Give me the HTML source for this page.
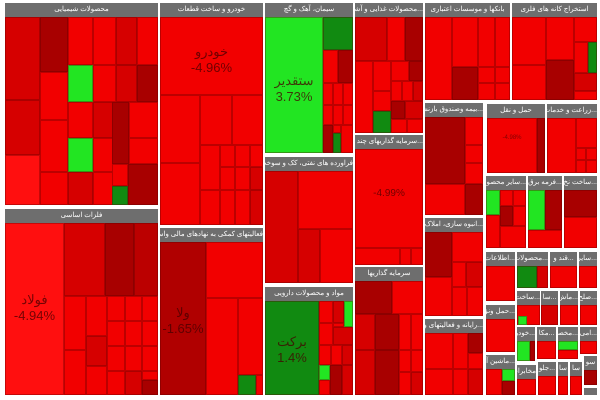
<!DOCTYPE html>
<html><head><meta charset="utf-8">
<style>
body{margin:0;width:600px;height:400px;background:#fff;position:relative;overflow:hidden;font-family:"Liberation Sans","Noto Sans CJK SC",sans-serif}
div{position:absolute;box-sizing:border-box}
.h{background:#6e6e6e;color:#fff;font-size:7px;line-height:14px;height:14px;text-align:center;white-space:nowrap;overflow:hidden;direction:rtl}
.c{border:1px solid rgba(90,0,0,.35);color:rgba(60,0,0,.6);font-size:5px;text-align:center;overflow:hidden}
.r{background:#f20000}.m{background:#d60000}.d{background:#a80000}.g{background:#22e522}.G{background:#118a11}.b{background:#ff0f0f}
.big{font-size:13px;color:rgba(70,0,0,.75)}
</style></head><body>
<!-- chemicals -->
<div class="h" style="left:5px;top:3px;width:153px">محصولات شیمیایی</div>
<div class="c m" style="left:5px;top:17px;width:35px;height:83px"></div>
<div class="c m" style="left:5px;top:100px;width:35px;height:55px"></div>
<div class="c b" style="left:5px;top:155px;width:35px;height:50px"></div>
<div class="c d" style="left:40px;top:17px;width:28px;height:55px"></div>
<div class="c r" style="left:40px;top:72px;width:28px;height:48px"></div>
<div class="c r" style="left:40px;top:120px;width:28px;height:52px"></div>
<div class="c r" style="left:40px;top:172px;width:28px;height:33px"></div>
<div class="c r" style="left:68px;top:17px;width:25px;height:48px"></div>
<div class="c g" style="left:68px;top:65px;width:25px;height:37px"></div>
<div class="c r" style="left:68px;top:102px;width:25px;height:36px"></div>
<div class="c g" style="left:68px;top:138px;width:25px;height:34px"></div>
<div class="c m" style="left:68px;top:172px;width:25px;height:33px"></div>
<div class="c r" style="left:93px;top:17px;width:23px;height:48px"></div>
<div class="c r" style="left:93px;top:65px;width:23px;height:37px"></div>
<div class="c m" style="left:93px;top:102px;width:23px;height:36px"></div>
<div class="c r" style="left:93px;top:138px;width:23px;height:34px"></div>
<div class="c r" style="left:93px;top:172px;width:23px;height:33px"></div>
<div class="c m" style="left:116px;top:17px;width:21px;height:48px"></div>
<div class="c m" style="left:116px;top:65px;width:21px;height:37px"></div>
<div class="c d" style="left:112px;top:102px;width:17px;height:62px"></div>
<div class="c r" style="left:129px;top:102px;width:29px;height:36px"></div>
<div class="c r" style="left:129px;top:138px;width:29px;height:26px"></div>
<div class="c r" style="left:112px;top:164px;width:16px;height:22px"></div>
<div class="c G" style="left:112px;top:186px;width:16px;height:19px"></div>
<div class="c d" style="left:128px;top:164px;width:30px;height:41px"></div>
<div class="c r" style="left:137px;top:17px;width:21px;height:48px"></div>
<div class="c d" style="left:137px;top:65px;width:21px;height:37px"></div>
<!-- basic metals -->
<div class="h" style="left:5px;top:209px;width:153px">فلزات اساسی</div>
<div class="c b big" style="left:5px;top:223px;width:59px;height:172px;padding-top:68px">فولاد<br>-4.94%</div>
<div class="c m" style="left:64px;top:223px;width:41px;height:73px"></div>
<div class="c d" style="left:105px;top:223px;width:29px;height:73px"></div>
<div class="c d" style="left:134px;top:223px;width:24px;height:73px;background:#bb0000"></div>
<div class="c r" style="left:64px;top:296px;width:22px;height:54px"></div>
<div class="c r" style="left:64px;top:350px;width:22px;height:45px"></div>
<div class="c r" style="left:86px;top:296px;width:21px;height:40px"></div>
<div class="c m" style="left:86px;top:336px;width:21px;height:30px"></div>
<div class="c r" style="left:86px;top:366px;width:21px;height:29px"></div>
<div class="c r" style="left:107px;top:296px;width:18px;height:25px"></div>
<div class="c r" style="left:125px;top:296px;width:17px;height:25px"></div>
<div class="c r" style="left:142px;top:296px;width:16px;height:25px"></div>
<div class="c r" style="left:107px;top:321px;width:18px;height:25px"></div>
<div class="c r" style="left:125px;top:321px;width:17px;height:25px"></div>
<div class="c r" style="left:142px;top:321px;width:16px;height:25px"></div>
<div class="c r" style="left:107px;top:346px;width:18px;height:25px"></div>
<div class="c r" style="left:125px;top:346px;width:17px;height:25px"></div>
<div class="c r" style="left:142px;top:346px;width:16px;height:25px"></div>
<div class="c r" style="left:107px;top:371px;width:18px;height:24px"></div>
<div class="c m" style="left:125px;top:371px;width:17px;height:24px"></div>
<div class="c r" style="left:142px;top:371px;width:16px;height:9px"></div>
<div class="c d" style="left:142px;top:380px;width:16px;height:15px"></div>
<!-- auto -->
<div class="h" style="left:160px;top:3px;width:103px">خودرو و ساخت قطعات</div>
<div class="c r big" style="left:160px;top:17px;width:103px;height:78px;padding-top:26px">خودرو<br>-4.96%</div>
<div class="c r" style="left:160px;top:95px;width:40px;height:68px"></div>
<div class="c r" style="left:200px;top:95px;width:32px;height:50px"></div>
<div class="c r" style="left:232px;top:95px;width:31px;height:50px"></div>
<div class="c r" style="left:160px;top:163px;width:40px;height:62px"></div>
<div class="c r" style="left:200px;top:145px;width:20px;height:45px"></div>
<div class="c r" style="left:220px;top:145px;width:15px;height:22px"></div>
<div class="c r" style="left:235px;top:145px;width:15px;height:22px"></div>
<div class="c r" style="left:250px;top:145px;width:13px;height:22px"></div>
<div class="c r" style="left:220px;top:167px;width:15px;height:23px"></div>
<div class="c r" style="left:235px;top:167px;width:15px;height:23px"></div>
<div class="c m" style="left:250px;top:167px;width:13px;height:23px"></div>
<div class="c r" style="left:200px;top:190px;width:20px;height:35px"></div>
<div class="c r" style="left:220px;top:190px;width:15px;height:35px"></div>
<div class="c r" style="left:235px;top:190px;width:15px;height:35px"></div>
<div class="c m" style="left:250px;top:190px;width:13px;height:35px"></div>
<!-- support -->
<div class="h" style="left:160px;top:228px;width:103px">فعالیتهای کمکی به نهادهای مالی واسط</div>
<div class="c d big" style="left:160px;top:242px;width:46px;height:153px;padding-top:62px;background:#b00000">ولا<br>-1.65%</div>
<div class="c r" style="left:206px;top:242px;width:57px;height:56px"></div>
<div class="c r" style="left:206px;top:298px;width:32px;height:97px"></div>
<div class="c r" style="left:238px;top:298px;width:25px;height:77px"></div>
<div class="c G" style="left:238px;top:375px;width:18px;height:20px"></div>
<div class="c r" style="left:256px;top:375px;width:7px;height:20px"></div>
<!-- cement -->
<div class="h" style="left:265px;top:3px;width:88px">سیمان، آهک و گچ</div>
<div class="c g big" style="left:265px;top:17px;width:58px;height:136px;padding-top:55px">ستقدیر<br>3.73%</div>
<div class="c G" style="left:323px;top:17px;width:30px;height:33px"></div>
<div class="c r" style="left:323px;top:50px;width:15px;height:33px"></div>
<div class="c d" style="left:338px;top:50px;width:15px;height:33px"></div>
<div class="c r" style="left:323px;top:83px;width:10px;height:22px"></div>
<div class="c r" style="left:333px;top:83px;width:10px;height:22px"></div>
<div class="c r" style="left:343px;top:83px;width:10px;height:22px"></div>
<div class="c r" style="left:323px;top:105px;width:10px;height:20px"></div>
<div class="c r" style="left:333px;top:105px;width:10px;height:20px"></div>
<div class="c r" style="left:343px;top:105px;width:10px;height:20px"></div>
<div class="c d" style="left:323px;top:125px;width:10px;height:28px"></div>
<div class="c r" style="left:333px;top:125px;width:8px;height:8px"></div>
<div class="c G" style="left:333px;top:133px;width:8px;height:20px"></div>
<div class="c r" style="left:341px;top:125px;width:12px;height:28px"></div>
<!-- petroleum -->
<div class="h" style="left:265px;top:157px;width:88px">فراورده های نفتی، کک و سوخت</div>
<div class="c m" style="left:265px;top:171px;width:33px;height:112px"></div>
<div class="c r" style="left:298px;top:171px;width:55px;height:58px"></div>
<div class="c m" style="left:298px;top:229px;width:22px;height:54px"></div>
<div class="c r" style="left:320px;top:229px;width:33px;height:54px"></div>
<!-- pharma -->
<div class="h" style="left:265px;top:287px;width:88px">مواد و محصولات دارویی</div>
<div class="c G big" style="left:265px;top:301px;width:54px;height:94px;padding-top:32px">برکت<br>1.4%</div>
<div class="c r" style="left:319px;top:301px;width:14px;height:22px"></div>
<div class="c m" style="left:333px;top:301px;width:11px;height:22px"></div>
<div class="c g" style="left:344px;top:301px;width:9px;height:26px"></div>
<div class="c r" style="left:319px;top:323px;width:14px;height:22px"></div>
<div class="c m" style="left:333px;top:327px;width:20px;height:18px"></div>
<div class="c r" style="left:333px;top:323px;width:11px;height:4px"></div>
<div class="c r" style="left:319px;top:345px;width:12px;height:20px"></div>
<div class="c r" style="left:331px;top:345px;width:11px;height:20px"></div>
<div class="c m" style="left:342px;top:345px;width:11px;height:20px"></div>
<div class="c g" style="left:319px;top:365px;width:11px;height:15px"></div>
<div class="c d" style="left:330px;top:365px;width:12px;height:30px"></div>
<div class="c r" style="left:319px;top:380px;width:11px;height:15px"></div>
<div class="c m" style="left:342px;top:365px;width:11px;height:30px"></div>
<!-- food -->
<div class="h" style="left:355px;top:3px;width:68px">...محصولات غذایی و آشامیدنی</div>
<div class="c m" style="left:355px;top:17px;width:32px;height:44px"></div>
<div class="c r" style="left:387px;top:17px;width:18px;height:44px"></div>
<div class="c d" style="left:405px;top:17px;width:18px;height:44px"></div>
<div class="c r" style="left:355px;top:61px;width:18px;height:72px"></div>
<div class="c r" style="left:373px;top:61px;width:18px;height:30px"></div>
<div class="c r" style="left:391px;top:61px;width:18px;height:20px"></div>
<div class="c d" style="left:409px;top:61px;width:14px;height:20px"></div>
<div class="c r" style="left:373px;top:91px;width:18px;height:20px"></div>
<div class="c G" style="left:373px;top:111px;width:18px;height:22px"></div>
<div class="c r" style="left:391px;top:81px;width:11px;height:20px"></div>
<div class="c r" style="left:402px;top:81px;width:11px;height:20px"></div>
<div class="c m" style="left:413px;top:81px;width:10px;height:20px"></div>
<div class="c d" style="left:391px;top:101px;width:14px;height:18px"></div>
<div class="c m" style="left:405px;top:101px;width:18px;height:18px"></div>
<div class="c r" style="left:391px;top:119px;width:16px;height:14px"></div>
<div class="c r" style="left:407px;top:119px;width:16px;height:14px"></div>
<!-- multi -->
<div class="h" style="left:355px;top:135px;width:68px">...سرمایه گذاریهای چند رشته ای</div>
<div class="c r big" style="left:355px;top:149px;width:68px;height:99px;padding-top:38px;font-size:10px">-4.99%</div>
<div class="c r" style="left:355px;top:248px;width:45px;height:17px"></div>
<div class="c r" style="left:400px;top:248px;width:11px;height:17px"></div>
<div class="c r" style="left:411px;top:248px;width:12px;height:17px"></div>
<!-- investments -->
<div class="h" style="left:355px;top:267px;width:68px">سرمایه گذاریها</div>
<div class="c d" style="left:355px;top:281px;width:37px;height:33px"></div>
<div class="c r" style="left:392px;top:281px;width:31px;height:33px"></div>
<div class="c m" style="left:355px;top:314px;width:20px;height:36px"></div>
<div class="c d" style="left:375px;top:314px;width:24px;height:36px"></div>
<div class="c r" style="left:399px;top:314px;width:12px;height:36px"></div>
<div class="c r" style="left:411px;top:314px;width:12px;height:36px"></div>
<div class="c m" style="left:355px;top:350px;width:20px;height:45px"></div>
<div class="c d" style="left:375px;top:350px;width:24px;height:45px"></div>
<div class="c r" style="left:399px;top:350px;width:12px;height:22px"></div>
<div class="c r" style="left:411px;top:350px;width:12px;height:22px"></div>
<div class="c r" style="left:399px;top:372px;width:12px;height:23px"></div>
<div class="c m" style="left:411px;top:372px;width:12px;height:23px"></div>
<!-- banks -->
<div class="h" style="left:425px;top:3px;width:85px">بانکها و موسسات اعتباری</div>
<div class="c r" style="left:425px;top:17px;width:27px;height:83px"></div>
<div class="c r" style="left:452px;top:17px;width:26px;height:50px"></div>
<div class="c r" style="left:478px;top:17px;width:17px;height:50px"></div>
<div class="c r" style="left:495px;top:17px;width:15px;height:50px"></div>
<div class="c d" style="left:452px;top:67px;width:26px;height:33px"></div>
<div class="c r" style="left:478px;top:67px;width:17px;height:16px"></div>
<div class="c r" style="left:495px;top:67px;width:15px;height:16px"></div>
<div class="c r" style="left:478px;top:83px;width:17px;height:17px"></div>
<div class="c r" style="left:495px;top:83px;width:15px;height:17px"></div>
<!-- mining -->
<div class="h" style="left:512px;top:3px;width:85px">استخراج کانه های فلزی</div>
<div class="c r" style="left:512px;top:17px;width:34px;height:48px"></div>
<div class="c r" style="left:546px;top:17px;width:28px;height:43px"></div>
<div class="c r" style="left:574px;top:17px;width:23px;height:25px"></div>
<div class="c r" style="left:512px;top:65px;width:34px;height:35px"></div>
<div class="c d" style="left:546px;top:60px;width:28px;height:40px"></div>
<div class="c r" style="left:574px;top:42px;width:14px;height:31px"></div>
<div class="c G" style="left:588px;top:42px;width:9px;height:31px"></div>
<div class="c m" style="left:574px;top:73px;width:23px;height:18px"></div>
<div class="c r" style="left:574px;top:91px;width:23px;height:9px"></div>
<!-- insurance -->
<div class="h" style="left:425px;top:103px;width:58px">...بیمه وصندوق بازنشستگی</div>
<div class="c d" style="left:425px;top:117px;width:40px;height:67px"></div>
<div class="c r" style="left:465px;top:117px;width:18px;height:28px"></div>
<div class="c r" style="left:465px;top:145px;width:18px;height:18px"></div>
<div class="c r" style="left:465px;top:163px;width:18px;height:21px"></div>
<div class="c r" style="left:425px;top:184px;width:40px;height:31px"></div>
<div class="c d" style="left:465px;top:184px;width:18px;height:31px"></div>
<!-- transport -->
<div class="h" style="left:487px;top:104px;width:58px">حمل و نقل</div>
<div class="c r" style="left:487px;top:118px;width:50px;height:55px;font-size:6px;padding-top:16px">-4.98%</div>
<div class="c d" style="left:537px;top:118px;width:8px;height:55px"></div>
<!-- agri -->
<div class="h" style="left:547px;top:104px;width:50px">...زراعت و خدمات وا</div>
<div class="c r" style="left:547px;top:118px;width:29px;height:55px"></div>
<div class="c r" style="left:576px;top:118px;width:21px;height:30px"></div>
<div class="c r" style="left:576px;top:148px;width:10px;height:12px"></div>
<div class="c r" style="left:586px;top:148px;width:11px;height:12px"></div>
<div class="c r" style="left:576px;top:160px;width:10px;height:13px"></div>
<div class="c r" style="left:586px;top:160px;width:11px;height:13px"></div>
<!-- mass construction -->
<div class="h" style="left:425px;top:218px;width:58px">...انبوه سازی، املاک و</div>
<div class="c d" style="left:425px;top:232px;width:27px;height:45px"></div>
<div class="c r" style="left:452px;top:232px;width:31px;height:30px"></div>
<div class="c r" style="left:425px;top:277px;width:27px;height:39px"></div>
<div class="c r" style="left:452px;top:262px;width:14px;height:25px"></div>
<div class="c m" style="left:466px;top:262px;width:17px;height:25px"></div>
<div class="c r" style="left:452px;top:287px;width:15px;height:29px"></div>
<div class="c r" style="left:467px;top:287px;width:16px;height:29px"></div>
<!-- computer -->
<div class="h" style="left:425px;top:319px;width:58px">...رایانه و فعالیتهای وا</div>
<div class="c r" style="left:425px;top:333px;width:28px;height:36px"></div>
<div class="c r" style="left:453px;top:333px;width:15px;height:36px"></div>
<div class="c d" style="left:468px;top:333px;width:15px;height:20px"></div>
<div class="c r" style="left:468px;top:353px;width:15px;height:16px"></div>
<div class="c r" style="left:425px;top:369px;width:28px;height:26px"></div>
<div class="c r" style="left:453px;top:369px;width:15px;height:26px"></div>
<div class="c m" style="left:468px;top:369px;width:15px;height:26px"></div>
<!-- small right panels -->
<div class="h" style="left:486px;top:176px;width:40px">...سایر محصولات</div>
<div class="c g" style="left:486px;top:190px;width:14px;height:25px"></div>
<div class="c r" style="left:500px;top:190px;width:13px;height:16px"></div>
<div class="c r" style="left:513px;top:190px;width:13px;height:16px"></div>
<div class="c d" style="left:500px;top:206px;width:13px;height:20px"></div>
<div class="c r" style="left:513px;top:206px;width:13px;height:20px"></div>
<div class="c r" style="left:486px;top:215px;width:14px;height:33px"></div>
<div class="c r" style="left:500px;top:226px;width:26px;height:22px"></div>
<div class="h" style="left:528px;top:176px;width:34px">...فرمه برق</div>
<div class="c g" style="left:528px;top:190px;width:17px;height:40px"></div>
<div class="c d" style="left:545px;top:190px;width:17px;height:40px"></div>
<div class="c r" style="left:528px;top:230px;width:34px;height:18px"></div>
<div class="h" style="left:564px;top:176px;width:33px">...ساخت نخ</div>
<div class="c d" style="left:564px;top:190px;width:33px;height:27px"></div>
<div class="c r" style="left:564px;top:217px;width:33px;height:31px"></div>

<div class="h" style="left:486px;top:252px;width:29px">...اطلاعات و</div>
<div class="c r" style="left:486px;top:266px;width:29px;height:35px"></div>
<div class="h" style="left:517px;top:252px;width:31px">...محصولات</div>
<div class="c G" style="left:517px;top:266px;width:20px;height:22px"></div>
<div class="c m" style="left:537px;top:266px;width:11px;height:22px"></div>
<div class="h" style="left:550px;top:252px;width:27px">...قند و</div>
<div class="c r" style="left:550px;top:266px;width:27px;height:22px"></div>
<div class="h" style="left:579px;top:252px;width:18px">...سایر</div>
<div class="c r" style="left:579px;top:266px;width:18px;height:22px"></div>

<div class="h" style="left:517px;top:291px;width:23px">...ساخت</div>
<div class="c r" style="left:517px;top:305px;width:23px;height:20px"></div>
<div class="c g" style="left:518px;top:316px;width:9px;height:9px"></div>
<div class="h" style="left:541px;top:291px;width:17px">...سا</div>
<div class="c m" style="left:541px;top:305px;width:17px;height:20px"></div>
<div class="h" style="left:560px;top:291px;width:18px">...ماش</div>
<div class="c r" style="left:560px;top:305px;width:18px;height:20px"></div>
<div class="h" style="left:580px;top:291px;width:17px">...صلح</div>
<div class="c r" style="left:580px;top:305px;width:17px;height:20px"></div>

<div class="h" style="left:486px;top:305px;width:29px">...حمل ونق</div>
<div class="c r" style="left:486px;top:319px;width:29px;height:33px"></div>

<div class="h" style="left:517px;top:327px;width:18px">...خودر</div>
<div class="c g" style="left:517px;top:341px;width:13px;height:20px"></div>
<div class="c d" style="left:530px;top:341px;width:5px;height:20px"></div>
<div class="h" style="left:537px;top:327px;width:19px">...مکا</div>
<div class="c r" style="left:537px;top:341px;width:19px;height:18px"></div>
<div class="h" style="left:558px;top:327px;width:20px">...مخصو</div>
<div class="c g" style="left:558px;top:341px;width:20px;height:9px"></div>
<div class="c r" style="left:558px;top:350px;width:20px;height:9px"></div>
<div class="h" style="left:580px;top:327px;width:17px">...امی</div>
<div class="c r" style="left:580px;top:341px;width:17px;height:13px"></div>

<div class="h" style="left:486px;top:355px;width:29px">...ماشین آلا</div>
<div class="c r" style="left:486px;top:369px;width:16px;height:26px"></div>
<div class="c g" style="left:502px;top:369px;width:13px;height:12px"></div>
<div class="c d" style="left:502px;top:381px;width:13px;height:14px"></div>
<div class="h" style="left:517px;top:365px;width:19px">مخابرات</div>
<div class="c r" style="left:517px;top:379px;width:19px;height:16px"></div>
<div class="h" style="left:538px;top:362px;width:18px">...جلو</div>
<div class="c r" style="left:538px;top:376px;width:18px;height:19px"></div>
<div class="h" style="left:558px;top:362px;width:10px">سا</div>
<div class="c r" style="left:558px;top:376px;width:10px;height:19px"></div>
<div class="h" style="left:570px;top:362px;width:12px">سا</div>
<div class="c r" style="left:570px;top:376px;width:12px;height:19px"></div>
<div class="h" style="left:584px;top:356px;width:13px">سو</div>
<div class="c d" style="left:584px;top:370px;width:13px;height:15px"></div>
<div class="h" style="left:584px;top:388px;width:13px;height:7px"></div>
</body></html>
